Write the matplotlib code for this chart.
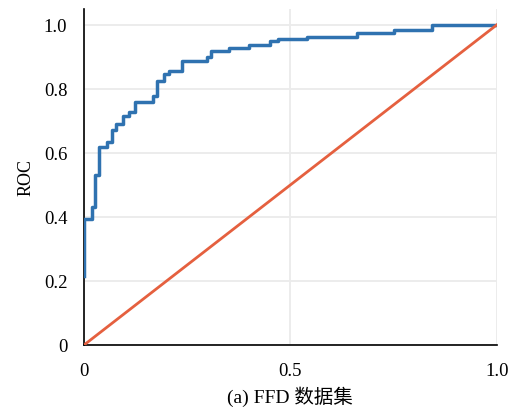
import matplotlib
matplotlib.use("Agg")
import matplotlib.pyplot as plt

# ROC step curve (jump position, level after the jump)
fpr = [0.0, 0.0, 0.019, 0.027, 0.036, 0.055, 0.067, 0.078, 0.095, 0.108,
       0.124, 0.168, 0.176, 0.193, 0.205, 0.237, 0.298, 0.307, 0.350, 0.399,
       0.450, 0.470, 0.540, 0.662, 0.751, 0.844, 1.0]
tpr = [0.217, 0.394, 0.430, 0.530, 0.618, 0.633, 0.670, 0.690, 0.716, 0.727,
       0.758, 0.779, 0.826, 0.847, 0.857, 0.888, 0.900, 0.918, 0.927, 0.9375,
       0.948, 0.956, 0.963, 0.974, 0.985, 1.0, 1.0]
diag = [0.0, 1.0]

xticks = [0, 0.5, 1.0]
xtick_labels = ["0", "0.5", "1.0"]
yticks = [0, 0.2, 0.4, 0.6, 0.8, 1.0]
ytick_labels = ["0", "0.2", "0.4", "0.6", "0.8", "1.0"]

plt.rcParams['font.family'] = ['Liberation Serif', 'Noto Sans CJK SC']

fig = plt.figure(figsize=(5.17, 4.14), dpi=100)
ax = fig.add_axes([0.1625, 0.1643, 0.7985, 0.812])

ax.step(fpr, tpr, where='post', color='#2f72b0', lw=2.5, zorder=3)
ax.plot(diag, diag, color='#e5603f', lw=2.0, zorder=3)

ax.set_xlim(0, 1.0)
ax.set_ylim(0, 1.05)
ax.set_xticks(xticks)
ax.set_xticklabels(xtick_labels)
ax.set_yticks(yticks)
ax.set_yticklabels(ytick_labels)
ax.tick_params(length=0, labelsize=13.5, pad=12)

ax.grid(True, color='#ebebeb', lw=1.3)
ax.set_axisbelow(True)
for s in ['top', 'right']:
    ax.spines[s].set_visible(False)
for s in ['left', 'bottom']:
    ax.spines[s].set_color('black')
    ax.spines[s].set_linewidth(1.2)

ax.set_ylabel("ROC", fontsize=13, labelpad=7)
ax.set_xlabel("(a) FFD 数据集", fontsize=14, labelpad=5)

fig.savefig("out.png", dpi=100)
